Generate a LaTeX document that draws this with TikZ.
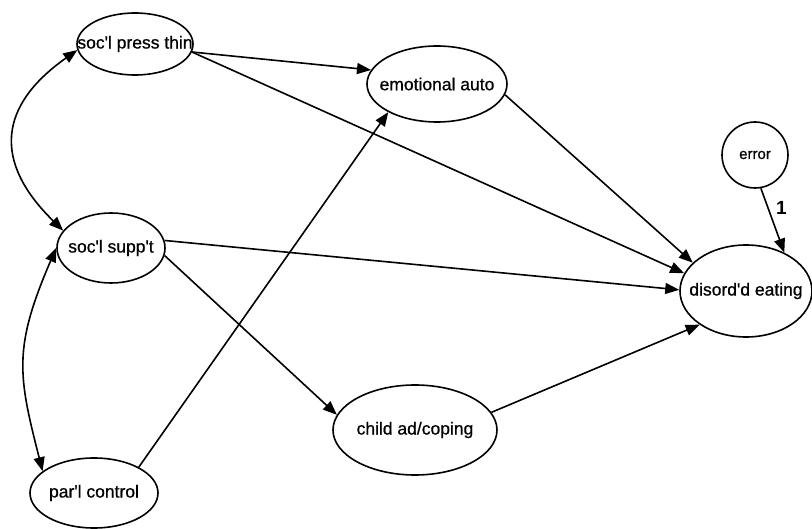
\documentclass[tikz,border=0pt]{standalone}
\usepackage{fontspec}
\setmainfont{Liberation Sans}
\newfontfamily\heavyfont[FakeBold=0.7]{Liberation Sans}
\usetikzlibrary{shapes.geometric,arrows.meta}
\begin{document}
\begin{tikzpicture}[x=1pt,y=-1pt,
  var/.style={ellipse,draw,line width=1.6pt,inner sep=0pt,fill=white},
  lbl/.style={font=\heavyfont\fontsize{17.5}{20}\selectfont},
  slbl/.style={font=\heavyfont\fontsize{15}{18}\selectfont},
  reg/.style={line width=1.6pt,-{Triangle[length=14pt,width=11pt]}},
  cov/.style={line width=1.6pt,{Triangle[length=14pt,width=11pt]}-{Triangle[length=14pt,width=11pt]}}]
\useasboundingbox (0,0) rectangle (812,529);
\node[var,minimum width=116pt,minimum height=62pt,label={[lbl]center:soc'l press thin}] (press) at (135,44) {};
\node[var,minimum width=140pt,minimum height=76pt,label={[lbl]center:emotional auto}] (emo) at (437,84) {};
\node[var,circle,minimum size=66pt,label={[slbl]center:error}] (err) at (755,155) {};
\node[var,minimum width=108pt,minimum height=70pt,label={[lbl]center:soc'l supp't}] (supp) at (111,248) {};
\node[var,minimum width=132pt,minimum height=92pt,label={[lbl]center:disord'd eating}] (dis) at (746,291) {};
\node[var,minimum width=164pt,minimum height=90pt,label={[lbl]center:child ad/coping}] (child) at (415,430) {};
\node[var,minimum width=128pt,minimum height=70pt,label={[lbl]center:par'l control}] (par) at (94,493) {};

\draw[reg] (press.-8) -- (emo.168);
\draw[reg] (press.-8) -- (dis.164);
\draw[reg] (emo.-9) -- (dis.152);
\draw[reg] (supp.8) -- (dis.179);
\draw[reg] (supp.-8) -- (child.169);
\draw[reg] (child.13) -- (dis.-144);
\draw[reg] (par.30) -- (emo.210);
\draw[reg] (err.-80) -- node[pos=0.3,anchor=west,xshift=4pt,font=\bfseries\fontsize{19}{22}\selectfont] (one) {1} (dis.45);

\draw[cov] (press.186) .. controls (-2,106) and (-7,162) .. (supp.160);
\draw[cov] (supp.180) .. controls (13,348) and (18,375) .. (par.157);
\end{tikzpicture}
\end{document}
